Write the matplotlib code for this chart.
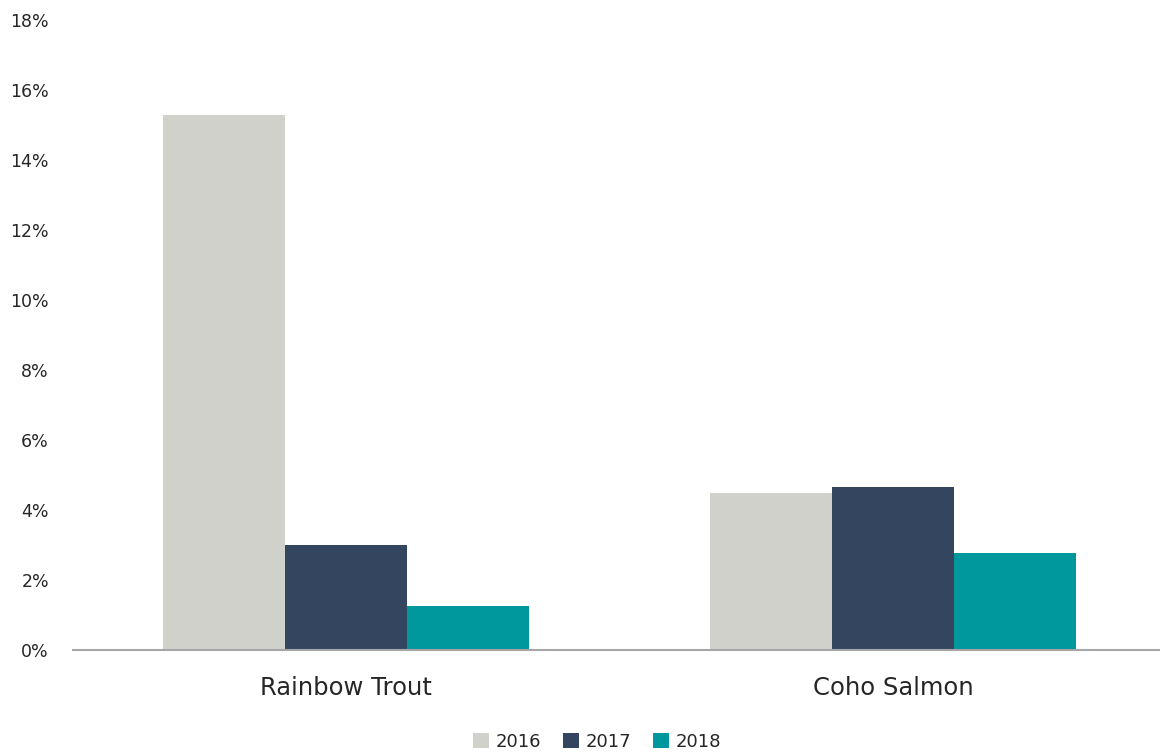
import matplotlib.pyplot as plt
import numpy as np
from matplotlib.ticker import FuncFormatter

categories = ['Rainbow Trout', 'Coho Salmon']
years = ['2016', '2017', '2018']
values_2016 = [15.3, 4.5]
values_2017 = [3.0, 4.65]
values_2018 = [1.27, 2.78]
colors = ['#D0D1CB', '#34455F', '#00979D']

fig = plt.figure(figsize=(11.6, 7.53), dpi=100)
# axes: left edge at the axis line start, runs off right side
ax = fig.add_axes([72.5 / 1160, 103 / 753, 1094 / 1160, 630 / 753])

x = np.arange(len(categories))
w = 122 / 547
for i, (vals, yr) in enumerate(zip([values_2016, values_2017, values_2018], years)):
    ax.bar(x + (i - 1) * w, vals, width=w, color=colors[i], label=yr, zorder=2)

ax.set_xlim(-0.5, 1.5)
ax.set_ylim(0, 18)
ax.set_yticks(np.arange(0, 19, 2))
ax.yaxis.set_major_formatter(FuncFormatter(lambda v, p: f'{v:.0f}%'))
ax.set_xticks(x)
ax.set_xticklabels(categories, fontsize=17.5, color='#262626')
ax.tick_params(axis='x', length=0, pad=19)
ax.tick_params(axis='y', length=0, pad=17, labelsize=12.5, labelcolor='#262626')

for s in ['top', 'right', 'left']:
    ax.spines[s].set_visible(False)
ax.spines['bottom'].set_color('#A6A6A6')
ax.spines['bottom'].set_linewidth(1.5)

leg = fig.legend(loc='center', bbox_to_anchor=(597 / 1160, 1 - 742 / 753), ncol=3,
                 frameon=False, fontsize=13, handlelength=0.9, handleheight=0.9,
                 handletextpad=0.35, columnspacing=1.2)
for t in leg.get_texts():
    t.set_color('#262626')

fig.savefig('out.png', dpi=100)
